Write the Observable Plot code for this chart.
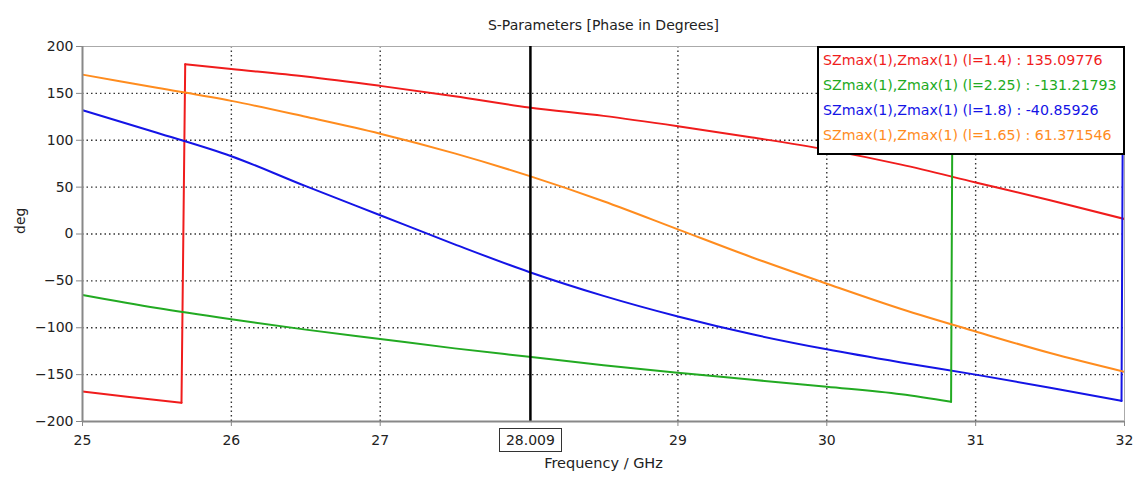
<!DOCTYPE html>
<html><head><meta charset="utf-8">
<script src="https://cdn.jsdelivr.net/npm/d3@7"></script>
<script src="https://cdn.jsdelivr.net/npm/@observablehq/plot@0.6"></script>
<style>
body{margin:0;background:#fff;font-family:"DejaVu Sans",sans-serif;}
#wrap{position:relative;width:1136px;height:477px;overflow:hidden;}
#legend{position:absolute;left:817px;top:46px;width:300px;height:105px;border:2px solid #000;background:#fff;padding:0 0 0 4px;font-size:14.2px;line-height:25px;white-space:nowrap;}
#marker{position:absolute;border:1px solid #333;background:#fff;font-size:14px;line-height:22px;text-align:center;color:#222;}
</style></head>
<body><div id="wrap"></div>
<script>
// Series data (frequency in GHz, phase in degrees)
const freqRed   = [25, 25.3, 25.665, 25.69, 26, 26.5, 27, 27.5, 28, 28.5, 29, 29.5, 30, 30.5, 31, 31.5, 32];
const phaseRed  = [-168, -173.5, -180, 181, 176, 168, 158, 147, 135, 126, 115, 103, 90, 74, 55, 36, 16];

const freqGreen  = [25, 25.5, 26, 26.5, 27, 27.5, 28, 28.5, 29, 29.5, 30, 30.5, 30.835, 30.845, 31, 31.5, 32];
const phaseGreen = [-65, -79, -91, -102, -112, -122, -131, -140, -148, -155.5, -163, -171, -179, 180, 176, 166, 155];

const freqBlue  = [25, 25.5, 26, 26.5, 27, 27.5, 28, 28.5, 29, 29.5, 30, 30.5, 31, 31.5, 31.98, 31.99, 32];
const phaseBlue = [132, 108, 83, 51, 20, -11, -40.5, -66, -88, -107, -123, -137, -150, -164, -178, 180, 179];

const freqOrange  = [25, 25.5, 26, 26.5, 27, 27.5, 28, 28.5, 29, 29.5, 30, 30.5, 31, 31.5, 32];
const phaseOrange = [170, 156, 142, 125, 107, 86, 62, 35, 5, -25, -53, -80, -104, -127, -147];

const seriesLabels = ["l=1.4", "l=2.25", "l=1.8", "l=1.65"];
const markerValues = ["135.09776", "-131.21793", "-40.85926", "61.371546"];
const seriesColors = ["#f01c1c", "#22aa22", "#1414e6", "#ff8c1e"];
const markerFreq = 28.009;
const xTicks = [25, 26, 27, 29, 30, 31, 32];
const xGrid = [26, 27, 29, 30, 31];
const yTicks = [-200, -150, -100, -50, 0, 50, 100, 150, 200];
const yGrid = [-150, -100, -50, 0, 50, 100, 150];

// Split each series into continuous segments (smooth) and wrap jumps (straight)
function build(fs, ps) {
  const rows = [], jumps = [];
  let seg = 0;
  fs.forEach((f, i) => {
    if (i > 0 && Math.abs(ps[i] - ps[i - 1]) > 200) {
      jumps.push({f: fs[i - 1], p: ps[i - 1], k: seg}, {f, p: ps[i], k: seg});
      seg++;
    }
    rows.push({f, p: ps[i], seg});
  });
  return {rows, jumps};
}
const series = [
  build(freqRed, phaseRed),
  build(freqGreen, phaseGreen),
  build(freqBlue, phaseBlue),
  build(freqOrange, phaseOrange)
];
const drawOrder = [0, 2, 1, 3];

const gridStyle = {stroke: "#000", strokeOpacity: 0.8, strokeDasharray: "1.5,3", strokeWidth: 1.4};

const lineMarks = drawOrder.flatMap(i => [
  Plot.line(series[i].rows, {x: "f", y: "p", z: "seg", stroke: seriesColors[i], strokeWidth: 2, clip: true, curve: "monotone-x"}),
  Plot.line(series[i].jumps, {x: "f", y: "p", z: "k", stroke: seriesColors[i], strokeWidth: 2, clip: true})
]);

const plot = Plot.plot({
  width: 1136, height: 477,
  marginTop: 46, marginBottom: 56, marginLeft: 82, marginRight: 12,
  style: {fontFamily: "DejaVu Sans", fontSize: "14px", color: "#222", background: "#fff", overflow: "visible"},
  x: {domain: [25, 32], label: null},
  y: {domain: [-200, 200], label: null},
  marks: [
    Plot.gridX(xGrid, gridStyle),
    Plot.gridY(yGrid, gridStyle),
    Plot.frame({stroke: "#aaa"}),
    ...lineMarks,
    Plot.ruleX([markerFreq], {stroke: "#000", strokeWidth: 2.5}),
    Plot.ruleX([25], {stroke: "#888", strokeWidth: 2}),
    Plot.ruleY([-200], {stroke: "#888", strokeWidth: 2}),
    Plot.axisX({ticks: xTicks, tickFormat: d3.format("d"), tickSize: 5, tickPadding: 9, stroke: "#888", label: null}),
    Plot.axisY({ticks: yTicks, tickFormat: d3.format("d"), tickSize: 6, tickPadding: 3, stroke: "#888", label: null}),
    Plot.text(["S-Parameters [Phase in Degrees]"], {frameAnchor: "top", dy: -26, fontSize: 14, fill: "#222"}),
    Plot.text(["Frequency / GHz"], {frameAnchor: "bottom", dy: 46, fontSize: 14.5, fill: "#222"}),
    Plot.text(["deg"], {frameAnchor: "left", dx: -62, rotate: -90, fontSize: 14, fill: "#222"})
  ]
});

const wrap = document.getElementById("wrap");
wrap.appendChild(plot);

const legend = document.createElement("div");
legend.id = "legend";
seriesLabels.forEach((l, i) => {
  const d = document.createElement("div");
  d.style.color = seriesColors[i];
  d.textContent = `SZmax(1),Zmax(1) (${l}) : ${markerValues[i]}`;
  legend.appendChild(d);
});
wrap.appendChild(legend);

const mx = plot.scale("x").apply(markerFreq);
const marker = document.createElement("div");
marker.id = "marker";
marker.textContent = String(markerFreq);
marker.style.left = (mx - 31) + "px";
marker.style.top = "428px";
marker.style.width = "61px";
marker.style.height = "22px";
wrap.appendChild(marker);
</script>
</body></html>
